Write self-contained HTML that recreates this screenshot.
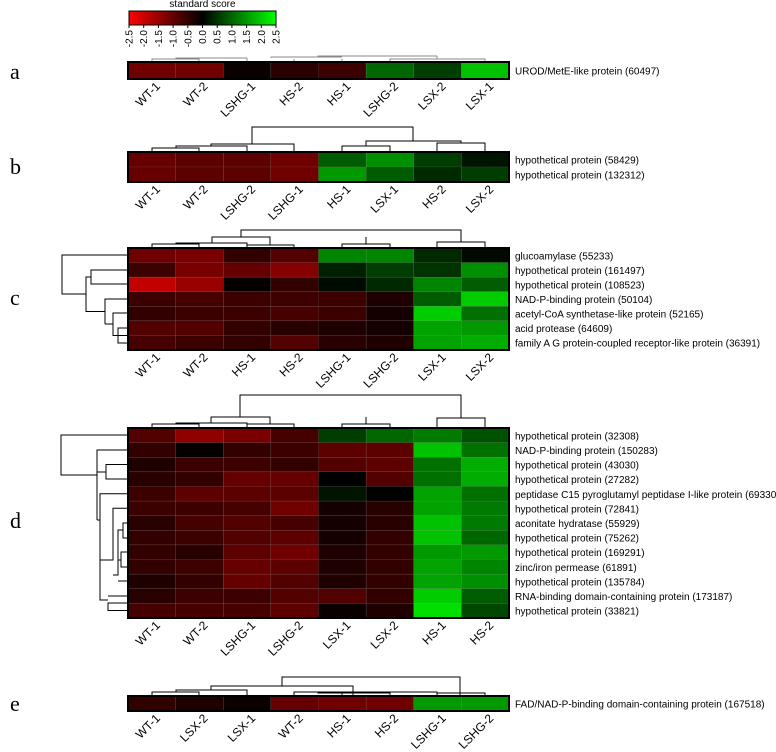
<!DOCTYPE html>
<html><head><meta charset="utf-8"><style>
body{margin:0;background:#fff;}
svg{display:block;font-family:"Liberation Sans",sans-serif;}
</style></head><body>
<svg id="fig" width="776" height="752" viewBox="0 0 776 752">
<g id="dendro" fill="none" stroke="#000" stroke-width="1">
<path d="M152 61V59H199V61M176 59V58H247M247 61V58M271 58V57H342M294 61V59M342 61V59M318 57V56H437M390 61V59H485V61M437 59V56" stroke="#888"/>
<path d="M152 151V148H199V151M176 148V146H247V151M211 146V144H294V151M252 144V127H413V141M342 151V146H390V151M437 151V143H485V151M366 146V141H461V143"/>
<path d="M152 247V244H199V247M176 244V243H247V247M247 247V245H294V247M212 243V237H270V245M342 247V244H390V247M366 244V237M241 237V230H461V242H437V247M461 242H485V247"/>
<path d="M128 270H91V284H128M128 335.5H118M128 328H118V343H128M128 313H113V335.5H118M113 324H105M128 299H105V324M105 311.5H86V277H91M86 294H62V255H128"/>
<path d="M152 427V424H199V427M176 424V423H247V427M247 427V424H294V427M211 423V417H270V424M342 427V424H390V427M366 424V417M240 417V395H461V418M437 427V418H485V427"/>
<path d="M128 435H61V475H97V450H128M128 464.5H106V479H128M106 472H97M128 603H108V610.5H128M128 596H108M128 493.7H100V600H108M100 520H97M97 475V520M128 508.3H113V560H100M128 523H123V538H128M123 530H118V575H113M128 552H121V567H128M121 560H118M128 581H118"/>
<path d="M152 695V692H199V695M176 692V690H247V695M211 690V686H353V695M294 695V692H342V695M318 692V693H390V695M342 692H437V695M390 692V693M282 686V677H460V695M437 695V693H485V695"/>
</g>
</svg>
<script>
const panelA_cols = ["WT-1","WT-2","LSHG-1","HS-2","HS-1","LSHG-2","LSX-2","LSX-1"];
const panelA_rows = ["UROD/MetE-like protein (60497)"];
const panelA_vals = [[-1.1,-1.1,-0.1,-0.4,-0.6,1.0,0.6,1.9]];
const panelB_cols = ["WT-1","WT-2","LSHG-2","LSHG-1","HS-1","LSX-1","HS-2","LSX-2"];
const panelB_rows = ["hypothetical protein (58429)","hypothetical protein (132312)"];
const panelB_vals = [[-1.0,-0.9,-0.9,-1.1,0.9,1.4,0.6,0.2],[-1.0,-0.9,-0.9,-1.1,1.5,0.9,0.4,0.6]];
const panelC_cols = ["WT-1","WT-2","HS-1","HS-2","LSHG-1","LSHG-2","LSX-1","LSX-2"];
const panelC_rows = ["glucoamylase (55233)","hypothetical protein (161497)","hypothetical protein (108523)","NAD-P-binding protein (50104)","acetyl-CoA synthetase-like protein (52165)","acid protease (64609)","family A G protein-coupled receptor-like protein (36391)"];
const panelC_vals = [
[-1.1,-1.2,-0.5,-0.8,1.3,1.3,0.4,0.1],
[-0.6,-1.2,-1.0,-1.3,0.3,0.6,0.5,1.4],
[-1.9,-1.5,-0.05,-0.5,0.1,0.4,1.3,0.9],
[-0.6,-0.7,-0.6,-0.6,-0.6,-0.3,0.9,2.0],
[-0.5,-0.6,-0.6,-0.7,-0.6,-0.2,2.0,1.1],
[-0.8,-0.8,-0.5,-0.4,-0.3,-0.2,1.6,1.5],
[-0.7,-0.6,-0.5,-0.8,-0.4,-0.3,1.6,1.7]];
const panelD_cols = ["WT-1","WT-2","LSHG-1","LSHG-2","LSX-1","LSX-2","HS-1","HS-2"];
const panelD_rows = ["hypothetical protein (32308)","NAD-P-binding protein (150283)","hypothetical protein (43030)","hypothetical protein (27282)","peptidase C15 pyroglutamyl peptidase I-like protein (69330)","hypothetical protein (72841)","aconitate hydratase (55929)","hypothetical protein (75262)","hypothetical protein (169291)","zinc/iron permease (61891)","hypothetical protein (135784)","RNA-binding domain-containing protein (173187)","hypothetical protein (33821)"];
const panelD_vals = [
[-0.8,-1.4,-1.2,-0.7,0.6,1.0,1.2,0.8],
[-0.5,-0.05,-0.5,-0.6,-0.9,-0.9,1.9,1.1],
[-0.3,-0.6,-0.6,-0.5,-0.8,-0.9,1.1,1.7],
[-0.4,-0.5,-1.0,-1.0,0.0,-0.8,1.1,1.7],
[-0.6,-0.9,-0.9,-0.9,0.2,0.0,1.6,1.1],
[-0.6,-0.6,-0.7,-1.1,-0.2,-0.4,1.6,1.2],
[-0.4,-0.7,-0.8,-0.7,-0.2,-0.4,1.9,1.2],
[-0.5,-0.6,-0.8,-0.9,-0.2,-0.5,1.9,1.0],
[-0.5,-0.4,-0.9,-1.1,-0.3,-0.5,1.5,1.5],
[-0.5,-0.6,-1.0,-0.9,-0.3,-0.5,1.6,1.3],
[-0.3,-0.5,-1.0,-0.8,-0.3,-0.5,1.6,1.4],
[-0.4,-0.6,-0.6,-0.8,-0.8,-0.5,2.0,0.9],
[-0.7,-0.7,-0.7,-0.9,-0.1,-0.3,2.2,0.7]];
const panelE_cols = ["WT-1","LSX-2","LSX-1","WT-2","HS-1","HS-2","LSHG-1","LSHG-2"];
const panelE_rows = ["FAD/NAD-P-binding domain-containing protein (167518)"];
const panelE_vals = [[-0.5,-0.3,-0.1,-1.0,-1.1,-1.1,1.5,1.5]];
const scaleTicks = ["-2.5","-2.0","-1.5","-1.0","-0.5","0.0","0.5","1.0","1.5","2.0","2.5"];

const NS="http://www.w3.org/2000/svg";
const svg=document.getElementById('fig');
function mk(tag,attrs,parent){const e=document.createElementNS(NS,tag);for(const k in attrs)e.setAttribute(k,attrs[k]);(parent||svg).appendChild(e);return e;}
function color(s){const v=Math.max(-2.5,Math.min(2.5,s));const c=Math.round(Math.abs(v)/2.5*255);return v<0?`rgb(${c},0,0)`:`rgb(0,${c},0)`;}
const X0=128,X1=509,CW=(X1-X0)/8;
function colX(i){return X0+CW*i;}

function panel(id,letter,letterY,cols,rows,vals,top,bottom){
  const g=mk('g',{});
  
  
  const RH=(bottom-top)/rows.length;
  vals.forEach((row,r)=>row.forEach((v,c)=>{
    const rc=mk('rect',{x:colX(c),y:top+RH*r,width:CW,height:RH,fill:color(v),stroke:'rgba(128,128,128,0.25)','stroke-width':0.5},g);
    
    
  }));
  const fr=mk('rect',{x:X0,y:top,width:X1-X0,height:bottom-top,fill:'none',stroke:'#000','stroke-width':2},g);
  
  
  rows.forEach((t,r)=>{
    const tx=mk('text',{x:515,y:top+RH*(r+0.5)+4,'font-size':10},g);tx.textContent=t;
    
    
  });
  cols.forEach((t,c)=>{
    const cx=colX(c)+CW/2+9,cy=bottom+8;
    const tx=mk('text',{x:cx,y:cy,'font-size':12,'text-anchor':'end',transform:`rotate(-45 ${cx} ${cy})`},g);tx.textContent=t;
    
    
  });
  const L=mk('text',{x:10,y:letterY,'font-size':22,'font-family':'Liberation Serif, serif'},g);L.textContent=letter;
  
  
}
panel('a','a',79,panelA_cols,panelA_rows,panelA_vals,62,79);
panel('b','b',174,panelB_cols,panelB_rows,panelB_vals,152,182);
panel('c','c',305,panelC_cols,panelC_rows,panelC_vals,248,350);
panel('d','d',528,panelD_cols,panelD_rows,panelD_vals,428,618);
panel('e','e',711,panelE_cols,panelE_rows,panelE_vals,696,711);

const sg=mk('g',{});


const SX0=129,SX1=276,SY0=11,SY1=25;
const defs=mk('defs',{},sg);
const lg=mk('linearGradient',{id:'sc',x1:0,x2:1,y1:0,y2:0},defs);
mk('stop',{offset:'0',"stop-color":'#ff0000'},lg);
mk('stop',{offset:'0.5',"stop-color":'#000000'},lg);
mk('stop',{offset:'1',"stop-color":'#00ff00'},lg);
const sb=mk('rect',{x:SX0,y:SY0,width:SX1-SX0,height:SY1-SY0,fill:'url(#sc)',stroke:'#000','stroke-width':1},sg);


const st=mk('text',{x:(SX0+SX1)/2,y:7,'font-size':10,'text-anchor':'middle'},sg);st.textContent='standard score';


scaleTicks.forEach((t,i)=>{
  const x=SX0+(SX1-SX0)*(parseFloat(t)+2.5)/5;
  mk('line',{x1:x,x2:x,y1:SY1,y2:SY1+3,stroke:'#000'},sg);
  const tx=mk('text',{x:x+3.5,y:SY1+5,'font-size':10,'text-anchor':'end',transform:`rotate(-90 ${x+3.5} ${SY1+5})`},sg);tx.textContent=t;
  
  
});
</script>
</body></html>
